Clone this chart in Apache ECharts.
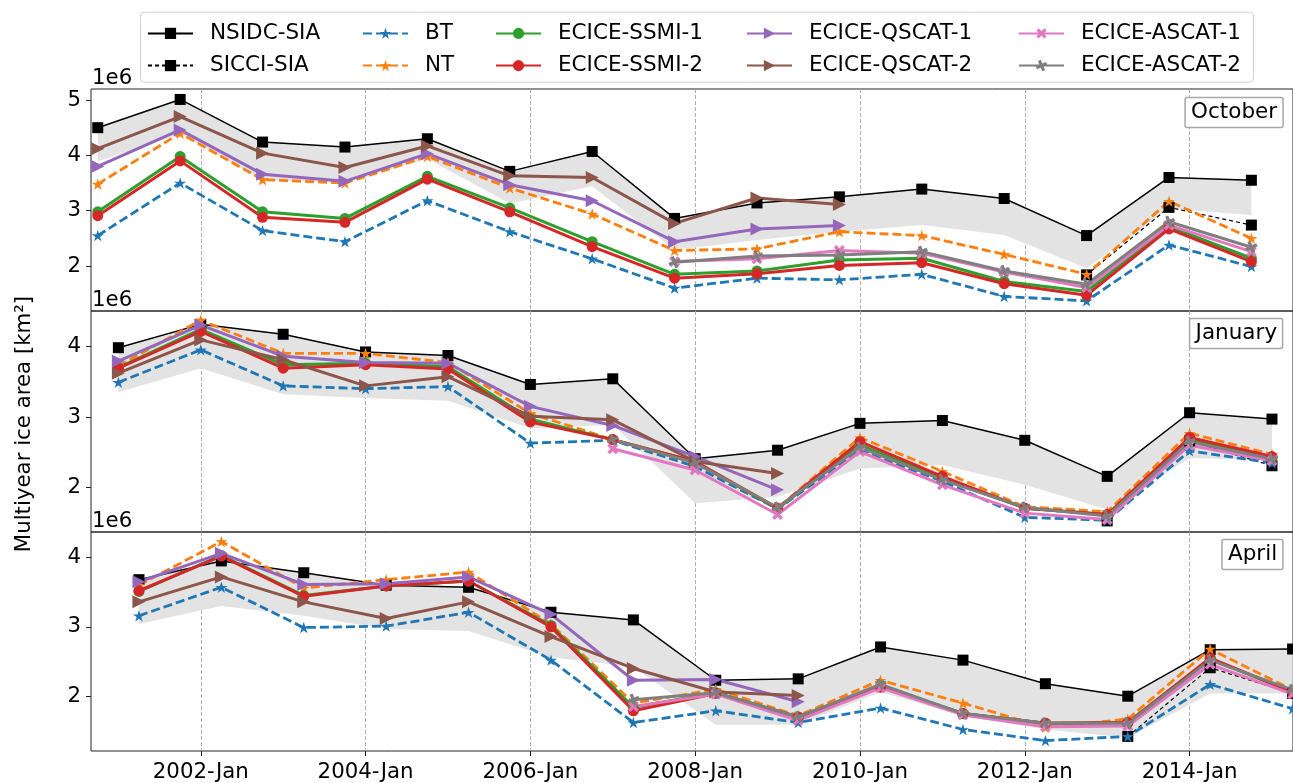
<!DOCTYPE html>
<html><head><meta charset="utf-8">
<script src="https://cdn.jsdelivr.net/npm/echarts@6/dist/echarts.min.js"></script>
<style>html,body{margin:0;padding:0;background:#fff;}#c{width:1293px;height:783px;}</style>
</head><body><div id="c"></div>
<script>
// ---------- DATA (values in millions of km², i.e. ×1e6) ----------
const seriesNames = ['NSIDC-SIA','SICCI-SIA','BT','NT','ECICE-SSMI-1','ECICE-SSMI-2','ECICE-QSCAT-1','ECICE-QSCAT-2','ECICE-ASCAT-1','ECICE-ASCAT-2'];
const xTickYears = [2002,2004,2006,2008,2010,2012,2014];
const panelNames = ['October','January','April'];
const yTicksOct = [2,3,4,5];
const yTicksJan = [2,3,4];
const yTicksApr = [2,3,4];

// October (2000 .. 2014)
const octYears = [2000,2001,2002,2003,2004,2005,2006,2007,2008,2009,2010,2011,2012,2013,2014];
const octNSIDC = [4.50,5.01,4.24,4.15,4.30,3.71,4.07,2.86,3.14,3.25,3.39,3.22,2.55,3.60,3.55];
const octSICCI = [null,null,null,null,null,null,null,null,null,null,null,null,1.84,3.06,2.74];
const octBT    = [2.55,3.50,2.64,2.44,3.18,2.62,2.13,1.60,1.78,1.75,1.85,1.45,1.37,2.38,1.99];
const octNT    = [3.48,4.40,3.56,3.50,3.98,3.41,2.94,2.28,2.31,2.62,2.55,2.21,1.85,3.17,2.50];
const octSSMI1 = [2.98,3.98,2.98,2.86,3.62,3.05,2.44,1.85,1.91,2.11,2.14,1.72,1.54,2.71,2.14];
const octSSMI2 = [2.91,3.90,2.88,2.79,3.57,2.98,2.35,1.78,1.86,2.01,2.06,1.68,1.47,2.67,2.08];
const octQSCAT1= [3.80,4.46,3.66,3.53,4.03,3.47,3.18,2.44,2.67,2.73,null,null,null,null,null];
const octQSCAT2= [4.12,4.70,4.04,3.78,4.17,3.63,3.60,2.77,3.23,3.11,null,null,null,null,null];
const octASCAT1= [null,null,null,null,null,null,null,2.08,2.13,2.28,2.23,1.89,1.61,2.74,2.26];
const octASCAT2= [null,null,null,null,null,null,null,2.07,2.18,2.20,2.26,1.91,1.67,2.80,2.34];
const octBandLow=[3.89,4.39,3.55,3.52,3.94,3.13,3.44,2.29,2.47,2.62,2.74,2.56,1.96,3.04,2.92];

// January (2001 .. 2015)
const janYears = [2001,2002,2003,2004,2005,2006,2007,2008,2009,2010,2011,2012,2013,2014,2015];
const janNSIDC = [3.98,4.31,4.17,3.92,3.87,3.46,3.54,2.41,2.53,2.91,2.95,2.67,2.16,3.06,2.97];
const janSICCI = [null,null,null,null,null,null,null,null,null,null,null,null,1.53,2.66,2.31];
const janBT    = [3.49,3.95,3.44,3.40,3.43,2.63,2.67,2.30,1.70,2.53,2.09,1.58,1.54,2.52,2.35];
const janNT    = [3.72,4.37,3.90,3.90,3.77,3.05,2.68,2.35,1.71,2.71,2.23,1.73,1.66,2.77,2.47];
const janSSMI1 = [3.70,4.24,3.74,3.76,3.71,2.97,2.68,2.37,1.70,2.60,2.13,1.71,1.62,2.68,2.42];
const janSSMI2 = [3.69,4.21,3.69,3.74,3.68,2.93,2.68,2.37,1.71,2.65,2.16,1.71,1.62,2.71,2.44];
const janQSCAT1= [3.79,4.30,3.86,3.77,3.76,3.15,2.88,2.44,1.97,null,null,null,null,null,null];
const janQSCAT2= [3.62,4.09,3.81,3.44,3.57,3.01,2.96,2.37,2.20,null,null,null,null,null,null];
const janASCAT1= [null,null,null,null,null,null,2.55,2.25,1.62,2.51,2.04,1.64,1.55,2.60,2.38];
const janASCAT2= [null,null,null,null,null,null,2.68,2.35,1.72,2.57,2.11,1.72,1.60,2.65,2.41];
const janBandLow=[3.35,3.69,3.32,3.27,3.23,2.84,2.89,1.78,1.87,2.27,2.32,2.04,1.69,2.42,2.39];

// April (2001 .. 2015)
const aprYears = [2001,2002,2003,2004,2005,2006,2007,2008,2009,2010,2011,2012,2013,2014,2015];
const aprNSIDC = [3.68,3.95,3.78,3.60,3.57,3.21,3.10,2.23,2.25,2.71,2.52,2.18,2.00,2.67,2.68];
const aprSICCI = [null,null,null,null,null,null,null,null,null,null,null,null,1.42,2.41,2.04];
const aprBT    = [3.16,3.57,2.99,3.01,3.21,2.52,1.62,1.79,1.62,1.83,1.52,1.36,1.42,2.17,1.82];
const aprNT    = [3.60,4.23,3.56,3.68,3.79,3.04,1.90,2.10,1.72,2.23,1.90,1.55,1.67,2.68,2.09];
const aprSSMI1 = [3.51,4.03,3.45,3.59,3.66,3.02,1.84,2.05,1.70,2.15,1.75,1.61,1.62,2.54,2.06];
const aprSSMI2 = [3.52,4.02,3.44,3.59,3.66,3.00,1.79,2.04,1.70,2.13,1.75,1.61,1.62,2.55,2.06];
const aprQSCAT1= [3.65,4.06,3.61,3.62,3.72,3.18,2.23,2.24,1.92,null,null,null,null,null,null];
const aprQSCAT2= [3.36,3.72,3.36,3.12,3.36,2.86,2.40,2.06,2.01,null,null,null,null,null,null];
const aprASCAT1= [null,null,null,null,null,null,1.85,2.03,1.65,2.12,1.73,1.56,1.57,2.46,2.03];
const aprASCAT2= [null,null,null,null,null,null,1.95,2.05,1.70,2.17,1.75,1.61,1.61,2.52,2.09];
const aprBandLow=[3.04,3.30,3.16,2.97,2.94,2.56,2.42,1.59,1.59,2.06,1.71,1.52,1.40,2.04,2.04];

// ---------- BUILD ----------
const panels = [
  {years: octYears, month: 0.75, band: octBandLow, ticks: yTicksOct, min: 1.187, max: 5.199,
   vals: [octNSIDC,octSICCI,octBT,octNT,octSSMI1,octSSMI2,octQSCAT1,octQSCAT2,octASCAT1,octASCAT2]},
  {years: janYears, month: 0.0, band: janBandLow, ticks: yTicksJan, min: 1.373, max: 4.499,
   vals: [janNSIDC,janSICCI,janBT,janNT,janSSMI1,janSSMI2,janQSCAT1,janQSCAT2,janASCAT1,janASCAT2]},
  {years: aprYears, month: 0.25, band: aprBandLow, ticks: yTicksApr, min: 1.210, max: 4.367,
   vals: [aprNSIDC,aprSICCI,aprBT,aprNT,aprSSMI1,aprSSMI2,aprQSCAT1,aprQSCAT2,aprASCAT1,aprASCAT2]}
];

const STAR = 'path://M100,0L122.45,69.1L195.1,69.1L136.3,111.8L158.8,180.9L100,138.2L41.2,180.9L63.7,111.8L4.9,69.1L77.55,69.1Z';
const PLUS = 'path://M36,0L64,0L64,36L100,36L100,64L64,64L64,100L36,100L36,64L0,64L0,36L36,36Z';
const styles = [
  {color:'#000000', width:1.5, type:'solid', symbol:'rect', size:11, rot:0},
  {color:'#000000', width:1.2, type:[4,3], symbol:'rect', size:11, rot:0},
  {color:'#1f77b4', width:2.8, type:[9,4], symbol:STAR, size:12, rot:0},
  {color:'#ff7f0e', width:2.8, type:[9,4], symbol:STAR, size:12, rot:0},
  {color:'#2ca02c', width:3, type:'solid', symbol:'circle', size:11, rot:0},
  {color:'#d62728', width:3, type:'solid', symbol:'circle', size:11, rot:0},
  {color:'#9467bd', width:3, type:'solid', symbol:'triangle', size:13, rot:-90},
  {color:'#8c564b', width:3, type:'solid', symbol:'triangle', size:13, rot:-90},
  {color:'#e377c2', width:3, type:'solid', symbol:PLUS, size:12, rot:45},
  {color:'#7f7f7f', width:3, type:'solid', symbol:PLUS, size:12, rot:22.5}
];

const gridTops = [89, 311, 532];
const gridBottoms = [311, 532, 753];
const FONT = 'DejaVu Sans';

const grids = [], xAxes = [], yAxes = [], series = [];
panels.forEach((p, g) => {
  grids.push({left: 91, top: gridTops[g], width: 1205, height: gridBottoms[g] - gridTops[g],
    show: true, borderColor: '#222', borderWidth: 1, backgroundColor: 'transparent'});
  xAxes.push({type: 'value', gridIndex: g, min: 2000.668, max: 2015.255,
    axisLine: {show: false},
    axisTick: {show: g === 2, length: 5, lineStyle: {color: '#222'}, customValues: xTickYears},
    axisLabel: {show: g === 2, customValues: xTickYears, margin: 11, fontSize: 21.3, color: '#000', fontFamily: FONT,
      formatter: v => Math.round(v) + '-Jan'},
    splitLine: {show: true, lineStyle: {color: '#b0b0b0', width: 1, type: [4, 2]}}});
  yAxes.push({type: 'value', gridIndex: g, min: p.min, max: p.max,
    axisLine: {show: false},
    axisTick: {show: true, length: 5, lineStyle: {color: '#222'}, customValues: p.ticks},
    axisLabel: {customValues: p.ticks, margin: 10, fontSize: 21.3, color: '#000', fontFamily: FONT},
    splitLine: {show: false}});
  // shaded band between NSIDC-SIA (upper) and lower bound
  const xs = p.years.map(y => y + p.month);
  const upper = p.vals[0];
  const lower = p.band;
  series.push({type: 'custom', xAxisIndex: g, yAxisIndex: g, silent: true, z: 1,
    data: [[2008, 3]],
    renderItem: (params, api) => {
      const pts = [];
      xs.forEach((x, i) => pts.push(api.coord([x, upper[i]])));
      for (let i = xs.length - 1; i >= 0; i--) pts.push(api.coord([xs[i], lower[i]]));
      return {type: 'polygon', shape: {points: pts}, style: {fill: '#e3e3e3', stroke: null}};
    }});
  seriesNames.forEach((name, k) => {
    const s = styles[k];
    const data = [];
    p.years.forEach((y, i) => { if (p.vals[k][i] != null) data.push([y + p.month, p.vals[k][i]]); });
    series.push({type: 'line', name: name, xAxisIndex: g, yAxisIndex: g, z: 2,
      data: data, symbol: s.symbol, symbolSize: s.size, symbolRotate: s.rot, symbolKeepAspect: true,
      showAllSymbol: true, itemStyle: {color: s.color},
      lineStyle: {color: s.color, width: s.width, type: s.type}, emphasis: {disabled: true}});
  });
});

const legendCols = [['NSIDC-SIA','SICCI-SIA'],['BT','NT'],['ECICE-SSMI-1','ECICE-SSMI-2'],['ECICE-QSCAT-1','ECICE-QSCAT-2'],['ECICE-ASCAT-1','ECICE-ASCAT-2']];
const legendLefts = [147, 362, 495, 746, 1018];
const legends = legendCols.map((names, i) => ({
  orient: 'vertical', left: legendLefts[i], top: 22.4, padding: 0, itemWidth: 45, itemHeight: 14, itemGap: 10.2,
  selectedMode: false, data: names,
  textStyle: {fontSize: 21.5, fontFamily: FONT, color: '#000', lineHeight: 14, padding: [0, 0, 0, 12]}
}));

const titles = [
  {text: 'October', top: 97, right: 9.7},
  {text: 'January', top: 318, right: 9.7},
  {text: 'April', top: 539, right: 9.7}
].map(t => Object.assign(t, {padding: [4.5, 6.2], borderColor: '#a8a8a8', borderWidth: 1.5, borderRadius: 2,
  backgroundColor: '#fff', textStyle: {fontSize: 21.5, fontWeight: 'normal', fontFamily: FONT, color: '#000', lineHeight: 22}}));

const graphics = [
  {type: 'rect', left: 140, top: 11.7, z: 0, shape: {width: 1113, height: 70, r: 4},
   style: {fill: 'rgba(255,255,255,0.8)', stroke: '#d0d0d0', lineWidth: 1}},
  {type: 'text', x: 24, y: 424, rotation: Math.PI / 2,
   style: {text: 'Multiyear ice area [km²]', fontSize: 21.3, fontFamily: FONT, fill: '#000', align: 'center', verticalAlign: 'middle'}}
].concat(gridTops.map(t => ({type: 'text', x: 92, y: t, z: 10,
   style: {text: '1e6', fontSize: 21.3, fontFamily: FONT, fill: '#000', align: 'left', verticalAlign: 'bottom'}})));

const chart = echarts.init(document.getElementById('c'), null, {renderer: 'canvas'});
chart.setOption({
  animation: false,
  backgroundColor: '#ffffff',
  textStyle: {fontFamily: FONT},
  title: titles,
  legend: legends,
  grid: grids,
  xAxis: xAxes,
  yAxis: yAxes,
  graphic: graphics,
  series: series
});
</script></body></html>
